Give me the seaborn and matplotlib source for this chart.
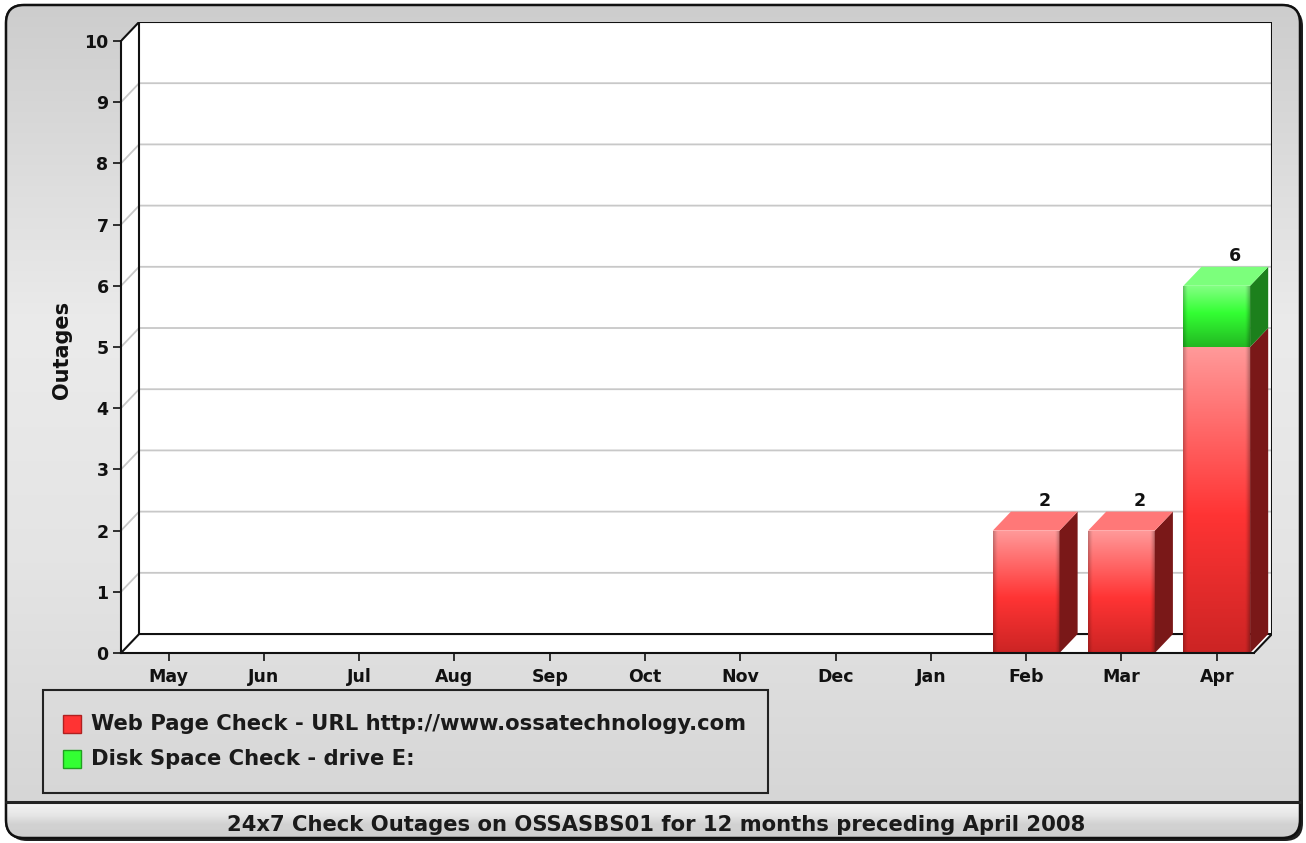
import numpy as np
import pandas as pd
import matplotlib
matplotlib.use("Agg")
import matplotlib.pyplot as plt
import seaborn as sns
from matplotlib.patches import FancyBboxPatch, Rectangle, Polygon
from matplotlib.colors import to_rgb

# ---------------- data ----------------
months = ["May", "Jun", "Jul", "Aug", "Sep", "Oct", "Nov", "Dec", "Jan", "Feb", "Mar", "Apr"]
web_page_check = [0, 0, 0, 0, 0, 0, 0, 0, 0, 2, 2, 5]
disk_space_check = [0, 0, 0, 0, 0, 0, 0, 0, 0, 0, 0, 1]
series_names = ["Web Page Check - URL http://www.ossatechnology.com",
                "Disk Space Check - drive E:"]
y_label = "Outages"
title = "24x7 Check Outages on OSSASBS01 for 12 months preceding April 2008"
y_ticks = list(range(0, 11))

df = pd.DataFrame({"month": months, "web": web_page_check, "disk": disk_space_check})
df["total"] = df["web"] + df["disk"]

sns.set_theme(style="white")
plt.rcParams["font.family"] = ["DejaVu Sans"]

W, H = 1306, 843
fig = plt.figure(figsize=(W / 100, H / 100), dpi=100)

# ---------------- background frame ----------------
bg = fig.add_axes([0, 0, 1, 1], zorder=-10)
bg.set_xlim(0, W)
bg.set_ylim(H, 0)
bg.axis("off")

def vgrad(stops, n=400):
    pos = np.array([s[0] for s in stops])
    cols = np.array([to_rgb(s[1]) for s in stops])
    t = np.linspace(0, 1, n)
    arr = np.stack([np.interp(t, pos, cols[:, k]) for k in range(3)], axis=-1)
    return arr[:, None, :]

# shadow
shadow = FancyBboxPatch((9, 8), 1294, 833, boxstyle="round,pad=0,rounding_size=18",
                        facecolor="#202020", edgecolor="none", zorder=0)
bg.add_patch(shadow)
frame = FancyBboxPatch((6, 5), 1294, 833, boxstyle="round,pad=0,rounding_size=18",
                       facecolor="#dcdcdc", edgecolor="#111111", linewidth=1.5, zorder=1)
bg.add_patch(frame)
im = bg.imshow(vgrad([(0, "#cdcdcd"), (0.4, "#ebebeb"), (0.7, "#e4e4e4"), (1, "#d6d6d6")]),
               extent=(6, 1300, 803, 5), aspect="auto", zorder=1.5)
im.set_clip_path(frame)
im2 = bg.imshow(vgrad([(0, "#f4f4f4"), (0.35, "#e6e6e6"), (0.6, "#d2d2d2"), (1, "#cfcfcf")]),
                extent=(6, 1300, 838, 803), aspect="auto", zorder=1.5)
im2.set_clip_path(frame)
frame_edge = FancyBboxPatch((6, 5), 1294, 833, boxstyle="round,pad=0,rounding_size=18",
                            facecolor="none", edgecolor="#111111", linewidth=1.8, zorder=2)
bg.add_patch(frame_edge)
bg.plot([6, 1300], [802, 802], color="#222222", lw=2.2, zorder=2)
bg.text(656, 825, title, ha="center", va="center", fontsize=15.2, fontweight="bold",
        color="#1a1a1a", zorder=3)

# legend box
bg.add_patch(Rectangle((43, 690), 725, 103, facecolor="none", edgecolor="#222222", lw=1.5, zorder=3))
legend_colors = ["#ff3333", "#33ff33"]
legend_edges = ["#b02020", "#20a020"]
for i, (name, c, ec) in enumerate(zip(series_names, legend_colors, legend_edges)):
    yc = 724 + 35 * i
    bg.add_patch(Rectangle((63, yc - 9), 18, 18, facecolor=c, edgecolor=ec, lw=1, zorder=3))
    bg.text(91, yc, name, ha="left", va="center", fontsize=15.2, fontweight="bold",
            color="#1a1a1a", zorder=3)

bg.text(62, 350, y_label, rotation=90, ha="center", va="center", fontsize=15,
        fontweight="bold", color="#111111")

# ---------------- main axes ----------------
ax = fig.add_axes([121 / W, (H - 653) / H, (1272 - 121) / W, (653 - 22) / H])
ax.set_facecolor("none")

DX, DY = 0.19, 0.31          # depth offset (data units)
X0, X1 = -0.5, 11.39          # front floor extent
YMAX = 10

# walls
ax.add_patch(Polygon([(X0, 0), (X1, 0), (X1 + DX, DY), (X0 + DX, DY)], closed=True,
                     facecolor="white", edgecolor="none", zorder=0.3))
ax.add_patch(Polygon([(X0, 0), (X0 + DX, DY), (X0 + DX, YMAX + DY), (X0, YMAX)], closed=True,
                     facecolor="white", edgecolor="none", zorder=0.3))
ax.add_patch(Rectangle((X0 + DX, DY), X1 - X0, YMAX, facecolor="white", edgecolor="none", zorder=0.3))
for v in y_ticks[1:-1]:
    ax.plot([X0, X0 + DX, X1 + DX], [v, v + DY, v + DY], color="#c8c8c8", lw=1.3, zorder=0.6)
edge_kw = dict(color="#111111", lw=1.5, zorder=0.7, solid_capstyle="butt")
ax.plot([X0, X0 + DX, X1 + DX, X1], [0, DY, DY, 0], **edge_kw)
ax.plot([X0 + DX, X0 + DX], [DY, YMAX + DY], **edge_kw)
ax.plot([X0, X0 + DX, X1 + DX, X1 + DX], [YMAX, YMAX + DY, YMAX + DY, DY], **edge_kw)

# bars: total (green) first, web (red) on top -> stacked look
sns.barplot(data=df, x="month", y="total", color="#33ff33", saturation=1, width=0.7,
            errorbar=None, ax=ax, zorder=2)
sns.barplot(data=df, x="month", y="web", color="#ff3333", saturation=1, width=0.7,
            errorbar=None, ax=ax, zorder=2)
n = len(months)
green_patches = ax.patches[-2 * n:-n]
red_patches = ax.patches[-n:]

def face_image(stops):
    col = vgrad(stops, 200)[:, 0, :]
    xs = np.linspace(0, 1, 60)
    shade = 1 - 0.22 * np.clip(1 - xs / 0.06, 0, 1) - 0.25 * np.clip(1 - (1 - xs) / 0.06, 0, 1)
    return np.clip(col[:, None, :] * shade[None, :, None], 0, 1)

red_img = face_image([(0, "#ff9a9a"), (0.55, "#ff3434"), (1, "#cc2424")])
green_img = face_image([(0, "#86ff86"), (0.45, "#33ff33"), (1, "#22b822")])

for i, (gp, rp) in enumerate(zip(green_patches, red_patches)):
    web, disk = df["web"][i], df["disk"][i]
    gp.set_y(web)
    gp.set_height(disk)
    segs = [(rp, web > 0, red_img, "#7a1818", "#ff7878"),
            (gp, disk > 0, green_img, "#1c801c", "#7cff7c")]
    for p, show, img, side_c, top_c in segs:
        p.set_edgecolor("none")
        if not show:
            p.set_visible(False)
            continue
        x0, w = p.get_x(), p.get_width()
        y0, h = p.get_y(), p.get_height()
        x1, y1 = x0 + w, y0 + h
        fi = ax.imshow(img, extent=(x0, x1, y0, y1), aspect="auto", zorder=2.1, origin="upper")
        fi.set_clip_path(p)
        ax.add_patch(Polygon([(x1, y0), (x1 + DX, y0 + DY), (x1 + DX, y1 + DY), (x1, y1)],
                             closed=True, facecolor=side_c, edgecolor="none", zorder=2.2))
        if abs(y1 - df["total"][i]) < 1e-9:
            ax.add_patch(Polygon([(x0, y1), (x0 + DX, y1 + DY), (x1 + DX, y1 + DY), (x1, y1)],
                                 closed=True, facecolor=top_c, edgecolor="none", zorder=2.2))
    tot = df["total"][i]
    if tot > 0:
        cx = rp.get_x() + rp.get_width() / 2
        ax.text(cx + DX, tot + DY + 0.18, f"{tot}", ha="center", va="center",
                fontsize=12.5, fontweight="bold", color="#111111", zorder=3)

# axes styling
ax.set_xlim(X0, X1 + DX)
ax.set_ylim(0, YMAX + DY)
ax.set_yticks(y_ticks)
ax.set_yticklabels([str(t) for t in y_ticks])
ax.set_xlabel("")
ax.set_ylabel("")
for s in ["top", "right"]:
    ax.spines[s].set_visible(False)
ax.spines["left"].set_bounds(0, YMAX)
ax.spines["bottom"].set_bounds(X0, X1)
for s in ["left", "bottom"]:
    ax.spines[s].set_color("#111111")
    ax.spines[s].set_linewidth(1.5)
    ax.spines[s].set_zorder(2.5)
ax.tick_params(axis="y", direction="out", length=6, width=1.2, color="#111111", pad=3,
               labelsize=12.5, left=True)
ax.tick_params(axis="x", direction="out", length=6, width=1.2, color="#111111", pad=5,
               labelsize=12.5, bottom=True)
for lab in ax.get_xticklabels() + ax.get_yticklabels():
    lab.set_fontweight("bold")
    lab.set_color("#111111")
ax.grid(False)

fig.savefig("out.png", dpi=100)
